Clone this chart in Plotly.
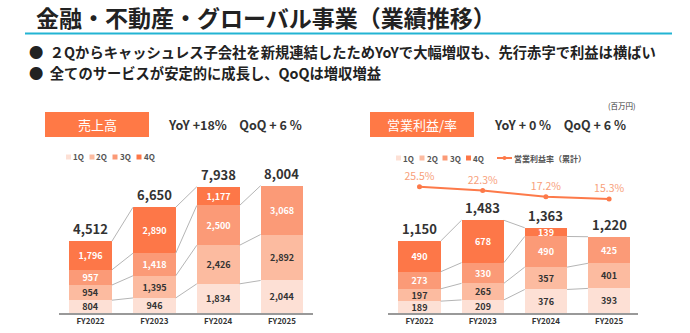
import plotly.graph_objects as go

W, H = 690, 333
def px(x): return x / W
def py(y): return 1 - y / H

FONT = "Noto Sans CJK JP"
DARK = "#333333"

years = ["FY2022", "FY2023", "FY2024", "FY2025"]
quarters = ["1Q", "2Q", "3Q", "4Q"]
q_colors = ["#fde0d5", "#fcbba0", "#fb9a77", "#fd7748"]
q_text_colors = [DARK, DARK, "#ffffff", "#ffffff"]

sales_q1 = [804, 946, 1834, 2044]
sales_q2 = [954, 1395, 2426, 2892]
sales_q3 = [957, 1418, 2500, 3068]
sales_q4 = [1796, 2890, 1177, None]
sales_total = [4512, 6650, 7938, 8004]

op_q1 = [189, 209, 376, 393]
op_q2 = [197, 265, 357, 401]
op_q3 = [273, 330, 490, 425]
op_q4 = [490, 678, 139, None]
op_total = [1150, 1483, 1363, 1220]
op_margin = [25.5, 22.3, 17.2, 15.3]

sales = [sales_q1, sales_q2, sales_q3, sales_q4]
ops = [op_q1, op_q2, op_q3, op_q4]

BW = 0.67
xs = list(range(len(years)))

fig = go.Figure()
annots = []
shapes = []

def add_stack(series, totals, xa, ya):
    for qi, vals in enumerate(series):
        fig.add_trace(go.Bar(
            x=xs, y=vals, xaxis=xa, yaxis=ya, width=BW,
            marker=dict(color=q_colors[qi], line=dict(width=0)),
            text=[f"{v:,}" if v is not None else "" for v in vals],
            textposition="inside", insidetextanchor="middle",
            constraintext="none", textangle=0,
            textfont=dict(family=FONT, size=9, color=q_text_colors[qi], weight="bold"),
            showlegend=False, hoverinfo="skip"))
    # connectors between cumulative levels
    for i in range(len(xs) - 1):
        cum_a, cum_b = 0, 0
        for qi in range(4):
            a = series[qi][i]
            b = series[qi][i + 1]
            if a is None or b is None:
                break
            cum_a += a
            cum_b += b
            fig.add_trace(go.Scatter(
                x=[xs[i] + BW / 2, xs[i + 1] - BW / 2], y=[cum_a, cum_b],
                xaxis=xa, yaxis=ya, mode="lines",
                line=dict(color="#b5b5b5", width=1),
                showlegend=False, hoverinfo="skip"))
    for xi, t in zip(xs, totals):
        annots.append(dict(x=xi, y=t, xref=xa, yref=ya, xanchor="center", yanchor="bottom",
                           yshift=1, text=f"{t:,}", showarrow=False,
                           font=dict(family=FONT, size=13, color=DARK, weight="bold")))

add_stack(sales, sales_total, "x", "y")
add_stack(ops, op_total, "x2", "y2")

fig.add_trace(go.Scatter(
    x=xs, y=op_margin, xaxis="x2", yaxis="y3", mode="lines+markers+text",
    line=dict(color="#fd7a4a", width=2), marker=dict(size=5, color="#fd7a4a"),
    text=[f"{m}%" for m in op_margin], textposition="top center",
    textfont=dict(family=FONT, size=10.5, color="#f8a07a"),
    showlegend=False, hoverinfo="skip"))

axis_common = dict(showgrid=False, zeroline=False, showline=True, linecolor="#999999",
                   linewidth=1.5, ticks="", tickvals=xs, ticktext=years,
                   tickfont=dict(family=FONT, size=8, color=DARK, weight="bold"))

ybot, ytop = py(313), py(113)
fig.update_layout(
    width=W, height=H, margin=dict(l=0, r=0, t=0, b=0),
    paper_bgcolor="white", plot_bgcolor="white", barmode="stack", bargap=0,
    xaxis=dict(domain=[px(59), px(313)], range=[-0.494, 3.486], **axis_common),
    yaxis=dict(domain=[ybot, ytop], range=[0, 12575], visible=False),
    xaxis2=dict(domain=[px(388), px(638)], range=[-0.498, 3.457], anchor="y2", **axis_common),
    yaxis2=dict(domain=[ybot, ytop], range=[0, 3196], visible=False, anchor="x2"),
    yaxis3=dict(range=[-79.75, 86.9], overlaying="y2", visible=False, anchor="x2"),
)

# Title
annots.append(dict(x=px(34), y=py(16.5), xref="paper", yref="paper", xanchor="left", yanchor="middle",
                   text="金融・不動産・グローバル事業（業績推移）", showarrow=False,
                   font=dict(family=FONT, size=23, color="#222222", weight="bold")))
shapes.append(dict(type="line", xref="paper", yref="paper", x0=px(25), x1=px(672), y0=py(33.5), y1=py(33.5),
                   line=dict(color="#22b4d3", width=2)))
annots.append(dict(x=px(27), y=py(51), xref="paper", yref="paper", xanchor="left", yanchor="middle",
                   text="●  ２Qからキャッシュレス子会社を新規連結したためYoYで大幅増収も、先行赤字で利益は横ばい",
                   showarrow=False, font=dict(family=FONT, size=14.3, color="#222222", weight="bold")))
annots.append(dict(x=px(27), y=py(72.5), xref="paper", yref="paper", xanchor="left", yanchor="middle",
                   text="●  全てのサービスが安定的に成長し、QoQは増収増益",
                   showarrow=False, font=dict(family=FONT, size=14.3, color="#222222", weight="bold")))

# Header boxes
for (x0, x1, label, sub, sx) in [(45, 149, "売上高", "YoY +18%　QoQ + 6 %", 166),
                                 (370, 474, "営業利益/率", "YoY + 0 %　QoQ + 6 %", 492)]:
    shapes.append(dict(type="rect", xref="paper", yref="paper", x0=px(x0), x1=px(x1), y0=py(137), y1=py(112),
                       fillcolor="#ff7946", line=dict(width=0)))
    annots.append(dict(x=px((x0 + x1) / 2), y=py(124.5), xref="paper", yref="paper", xanchor="center",
                       yanchor="middle", text=label, showarrow=False,
                       font=dict(family=FONT, size=13, color="white")))
    annots.append(dict(x=px(sx), y=py(124.5), xref="paper", yref="paper", xanchor="left",
                       yanchor="middle", text=sub, showarrow=False,
                       font=dict(family=FONT, size=12.5, color=DARK, weight="bold")))

annots.append(dict(x=px(638), y=py(105), xref="paper", yref="paper", xanchor="right", yanchor="middle",
                   text="(百万円)", showarrow=False, font=dict(family=FONT, size=7.5, color=DARK)))

# Legends
def legend(xpos, ylev):
    for qi, xq in enumerate(xpos):
        shapes.append(dict(type="rect", xref="paper", yref="paper", x0=px(xq), x1=px(xq + 5),
                           y0=py(ylev + 2.5), y1=py(ylev - 2.5), fillcolor=q_colors[qi], line=dict(width=0)))
        annots.append(dict(x=px(xq + 5), y=py(ylev), xref="paper", yref="paper", xanchor="left",
                           yanchor="middle", text=quarters[qi], showarrow=False,
                           font=dict(family=FONT, size=8, color="#555555", weight="bold")))

legend([66, 89.5, 112.5, 136.5], 157)
legend([396, 419.5, 442.5, 466], 158)
shapes.append(dict(type="line", xref="paper", yref="paper", x0=px(497), x1=px(512), y0=py(158), y1=py(158),
                   line=dict(color="#fd7a4a", width=2)))
shapes.append(dict(type="circle", xref="paper", yref="paper", x0=px(502.5), x1=px(506.5), y0=py(160), y1=py(156),
                   fillcolor="#fd7a4a", line=dict(width=0)))
annots.append(dict(x=px(512), y=py(158), xref="paper", yref="paper", xanchor="left", yanchor="middle",
                   text="営業利益率（累計）", showarrow=False,
                   font=dict(family=FONT, size=8, color="#555555", weight="bold")))

fig.update_layout(shapes=shapes, annotations=annots)
fig.write_html("out.html")
